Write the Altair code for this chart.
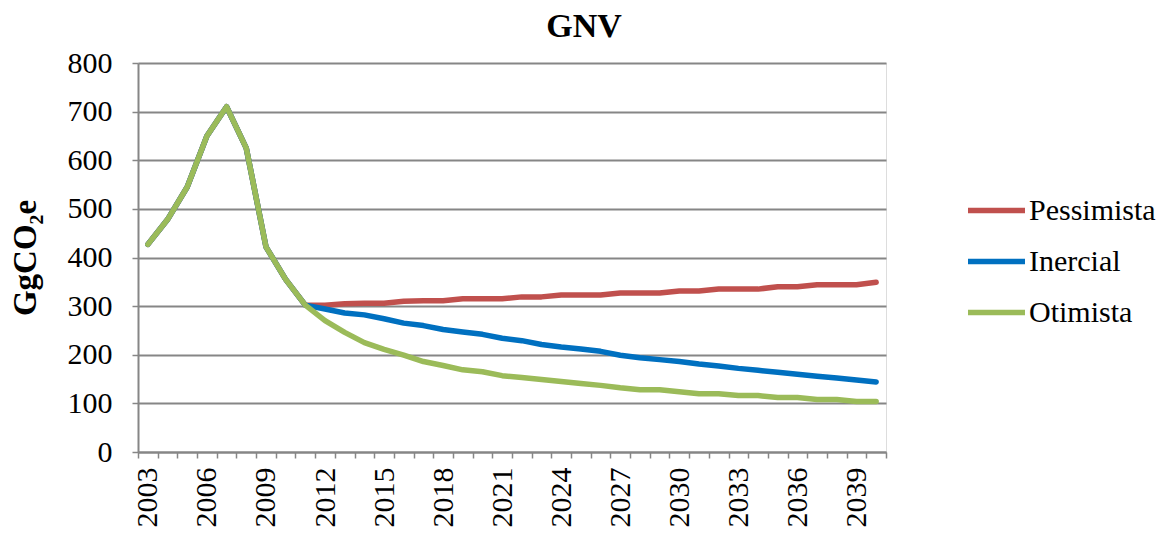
import altair as alt
import pandas as pd

years = list(range(2003, 2041))
common = [427, 478, 545, 650, 710, 625, 422, 355, 302]
pessimista = common + [302, 305, 306, 306, 310, 311, 311, 315, 315, 315, 319, 319, 323, 323, 323,
                       327, 327, 327, 331, 331, 335, 335, 335, 340, 340, 344, 344, 344, 349]
inercial = common + [294, 286, 282, 274, 265, 260, 252, 247, 242, 234, 229, 221, 216, 212, 207,
                     199, 194, 190, 186, 181, 177, 172, 168, 164, 160, 156, 152, 148, 144]
otimista = common + [270, 246, 225, 211, 199, 186, 178, 169, 165, 157, 153, 149, 145, 141, 137,
                     132, 128, 128, 124, 120, 120, 116, 116, 112, 112, 108, 108, 104, 104]
series = ["Pessimista", "Inercial", "Otimista"]
colors = ["#C0504D", "#0070C0", "#9BBB59"]

rows = []
for name, vals in zip(series, [pessimista, inercial, otimista]):
    for i, (y, v) in enumerate(zip(years, vals)):
        rows.append({"Ano": str(y), "Valor": v, "Cenario": name, "ordem": series.index(name)})
df = pd.DataFrame(rows)

font = "Liberation Serif"

chart = alt.Chart(df).mark_line(strokeWidth=5.5, strokeCap="round", strokeJoin="round").encode(
    x=alt.X("Ano:N", sort=[str(y) for y in years], title=None,
            scale=alt.Scale(paddingInner=0, paddingOuter=0),
            axis=alt.Axis(labelAngle=-90, labelFontSize=30, labelFont=font, labelColor="black",
                          labelExpr="(toNumber(datum.value) - 2003) % 3 == 0 ? datum.value : ''",
                          tickBand="extent", tickSize=6, tickColor="#868686", tickWidth=1.5,
                          domainColor="#868686", domainWidth=2, labelPadding=9, grid=False,
                          labelBaseline="middle", labelAlign="right", labelOverlap=False)),
    y=alt.Y("Valor:Q", title="GgCO₂e", scale=alt.Scale(domain=[0, 800]),
            axis=alt.Axis(values=list(range(0, 801, 100)), labelFontSize=30, labelFont=font,
                          labelColor="black", titleFont=font, titleFontSize=33, titleColor="black",
                          titleFontWeight="bold", titlePadding=25, tickSize=6, tickColor="#868686",
                          tickWidth=1.5, domainColor="#868686", domainWidth=2, labelPadding=20,
                          gridColor="#868686", gridWidth=2)),
    color=alt.Color("Cenario:N", sort=series,
                    scale=alt.Scale(domain=series, range=colors),
                    legend=alt.Legend(title=None, orient="none", legendX=827, legendY=116,
                                      labelFontSize=30, labelFont=font, labelColor="black",
                                      symbolType="stroke", symbolStrokeWidth=5.5, symbolSize=3249,
                                      rowPadding=4, labelOffset=1)),
    order=alt.Order("ordem:Q"),
).properties(
    width=748, height=389,
    title=alt.TitleParams("GNV", font=font, fontSize=34, fontWeight="bold", color="black",
                          dx=72, offset=4, anchor="middle"),
    autosize=alt.AutoSizeParams(type="none"),
    padding={"left": 130, "top": 55, "right": 275, "bottom": 90},
).configure_view(stroke=None).configure(background="white")

chart.save("out.html", embed_options={"renderer": "svg", "actions": False})
